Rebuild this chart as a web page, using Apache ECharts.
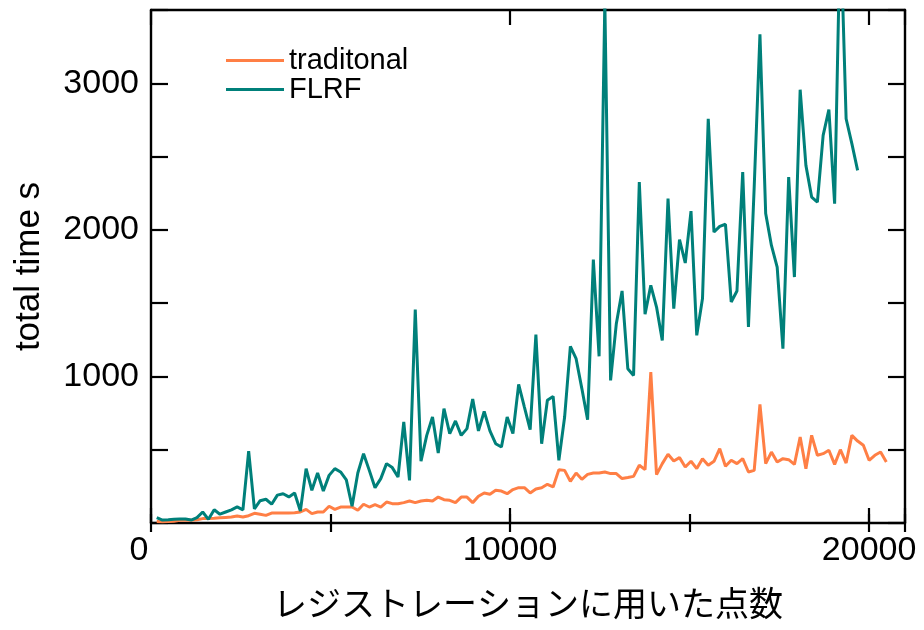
<!DOCTYPE html>
<html>
<head>
<meta charset="utf-8">
<script src="https://cdn.jsdelivr.net/npm/echarts@6/dist/echarts.min.js"></script>
<style>
  html, body { margin: 0; padding: 0; background: #fff; }
  #chart { width: 924px; height: 630px; }
</style>
</head>
<body>
<div id="chart"></div>
<script>
// Number of registration points for each run
const pointCounts = [160, 320, 480, 640, 800, 960, 1120, 1280, 1440, 1600,
  1760, 1920, 2080, 2240, 2400, 2560, 2720, 2880, 3040, 3200,
  3360, 3520, 3680, 3840, 4000, 4160, 4320, 4480, 4640, 4800,
  4960, 5120, 5280, 5440, 5600, 5760, 5920, 6080, 6240, 6400,
  6560, 6720, 6880, 7040, 7200, 7360, 7520, 7680, 7840, 8000,
  8160, 8320, 8480, 8640, 8800, 8960, 9120, 9280, 9440, 9600,
  9760, 9920, 10080, 10240, 10400, 10560, 10720, 10880, 11040, 11200,
  11360, 11520, 11680, 11840, 12000, 12160, 12320, 12480, 12640, 12800,
  12960, 13120, 13280, 13440, 13600, 13760, 13920, 14080, 14240, 14400,
  14560, 14720, 14880, 15040, 15200, 15360, 15520, 15680, 15840, 16000,
  16160, 16320, 16480, 16640, 16800, 16960, 17120, 17280, 17440, 17600,
  17760, 17920, 18080, 18240, 18400, 18560, 18720, 18880, 19040, 19200,
  19360, 19520, 19680, 19840, 20000, 20160, 20320, 20480];

// total time [s], traditional method
const traditionalTime = [10, 8, 10, 12, 18, 18, 18, 22, 30, 30,
  32, 35, 38, 41, 48, 41, 50, 66, 60, 52,
  68, 68, 68, 68, 70, 75, 93, 64, 75, 75,
  114, 93, 109, 109, 109, 87, 128, 109, 125, 109,
  143, 132, 132, 139, 150, 139, 150, 155, 150, 177,
  159, 155, 139, 177, 177, 139, 182, 205, 196, 223,
  218, 200, 228, 241, 241, 205, 232, 241, 264, 246,
  364, 359, 284, 341, 298, 332, 341, 341, 348, 337,
  337, 303, 310, 318, 394, 364, 1030, 330, 405, 469,
  423, 446, 382, 421, 371, 439, 394, 421, 507, 387,
  428, 405, 439, 348, 359, 810, 405, 484, 416, 439,
  432, 400, 587, 371, 598, 462, 473, 496, 400, 500,
  409, 598, 559, 530, 428, 462, 484, 416];

// total time [s], FLRF
const flrfTime = [37, 20, 22, 25, 27, 27, 20, 37, 75, 25,
  90, 60, 75, 90, 110, 90, 491, 96, 152, 162,
  128, 190, 200, 178, 205, 82, 371, 223, 341, 218,
  325, 371, 348, 294, 114, 341, 473, 359, 241, 303,
  405, 378, 314, 689, 291, 1456, 421, 598, 723, 477,
  780, 610, 696, 598, 644, 846, 628, 762, 628, 541,
  518, 723, 610, 946, 791, 637, 1285, 541, 837, 864,
  428, 723, 1205, 1121, 917, 705, 1797, 1137, 3560, 973,
  1360, 1583, 1053, 1007, 2326, 1424, 1621, 1473, 1246, 2213,
  1462, 1933, 1774, 2128, 1280, 1531, 2758, 1985, 2024, 2038,
  1508, 1583, 2394, 1337, 2292, 3334, 2111, 1894, 1746, 1190,
  2360, 1678, 2956, 2440, 2224, 2190, 2645, 2820, 2179, 4100,
  2758, 2588, 2406];

const seriesNames = ['traditonal', 'FLRF'];
const xTitle = 'レジストレーションに用いた点数';
const yTitle = 'total time s';

const pairs = (ys) => ys.map((y, i) => [pointCounts[i], y]);

const chart = echarts.init(document.getElementById('chart'), null, { renderer: 'canvas' });

const frameLine = { show: true, onZero: false, lineStyle: { color: '#000', width: 2.4 } };
const tickStyle = { color: '#000', width: 2.2 };
const X_MAX = 21000, Y_MAX = 3500;

function xAxisDef(position, interval, tickLen, withLine, withLabels) {
  const ax = {
    type: 'value', gridIndex: 0, position: position,
    min: 0, max: X_MAX, interval: interval,
    axisLine: withLine ? frameLine : { show: false },
    axisTick: { show: true, inside: true, length: tickLen, lineStyle: tickStyle },
    splitLine: { show: false },
    axisLabel: { show: false }
  };
  if (withLabels) {
    ax.axisLabel = {
      show: true, color: '#000', fontSize: 34, margin: 11,
      formatter: (v) => v === 0 ? '{z|0}' : (v % 10000 === 0 ? String(v) : ''),
      rich: { z: { fontSize: 34, color: '#000', padding: [0, 24, 0, 0] } }
    };
    ax.name = xTitle;
    ax.nameLocation = 'middle';
    ax.nameGap = 63;
    ax.nameTextStyle = { fontSize: 34, color: '#000', fontFamily: "'Noto Sans CJK JP', sans-serif" };
  }
  return ax;
}

function yAxisDef(position, withLabels) {
  const ax = {
    type: 'value', gridIndex: 0, position: position,
    min: 0, max: Y_MAX, interval: 500,
    axisLine: frameLine,
    axisTick: { show: true, inside: true, length: 17, lineStyle: tickStyle },
    splitLine: { show: false },
    axisLabel: { show: false }
  };
  if (withLabels) {
    ax.axisLabel = {
      show: true, color: '#000', fontSize: 34, margin: 12,
      formatter: (v) => (v > 0 && v % 1000 === 0) ? String(v) : ''
    };
    ax.name = yTitle;
    ax.nameLocation = 'middle';
    ax.nameGap = 104;
    ax.nameTextStyle = { fontSize: 35, color: '#000' };
  }
  return ax;
}

chart.setOption({
  animation: false,
  backgroundColor: '#fff',
  textStyle: { fontFamily: "'Liberation Sans', Arial, sans-serif" },
  grid: { left: 151, top: 10, width: 754, height: 513, containLabel: false },
  legend: {
    data: seriesNames,
    orient: 'vertical',
    icon: 'rect',
    left: 221, top: 41,
    itemWidth: 58, itemHeight: 3, itemGap: 0,
    textStyle: { fontSize: 29, color: '#000', lineHeight: 29 }
  },
  xAxis: [
    xAxisDef('bottom', 10000, 15, true, true),
    xAxisDef('bottom', 5000, 9, false, false),
    xAxisDef('top', 10000, 15, true, false),
    xAxisDef('top', 5000, 9, false, false)
  ],
  yAxis: [
    yAxisDef('left', true),
    yAxisDef('right', false)
  ],
  series: [
    {
      name: seriesNames[0], type: 'line', xAxisIndex: 0, yAxisIndex: 0,
      data: pairs(traditionalTime), symbol: 'none', clip: true,
      color: '#FF7F45', lineStyle: { color: '#FF7F45', width: 3 }
    },
    {
      name: seriesNames[1], type: 'line', xAxisIndex: 0, yAxisIndex: 0,
      data: pairs(flrfTime), symbol: 'none', clip: true,
      color: '#00807A', lineStyle: { color: '#00807A', width: 3 }
    }
  ]
});
</script>
</body>
</html>
